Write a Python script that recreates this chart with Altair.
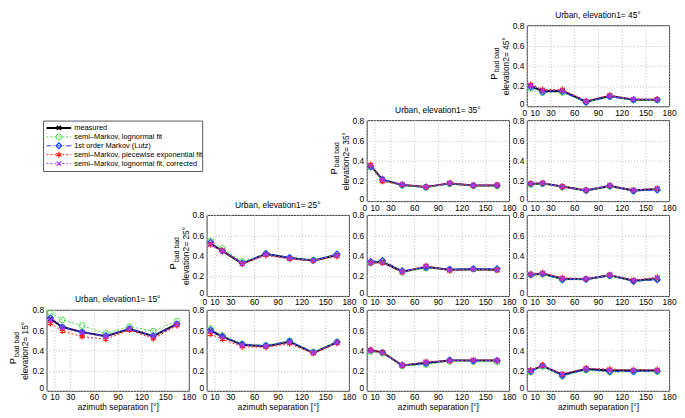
import altair as alt
import pandas as pd

FONT = "Liberation Sans"

AZIMUTH = [5, 20, 45, 75, 105, 135, 165]
SERIES = [
    "measured",
    "semi–Markov, lognormal fit",
    "1st order Markov (Lutz)",
    "semi–Markov, piecewise exponential fit",
    "semi–Markov, lognormal fit, corrected",
]
X_TICKS = [0, 10, 30, 60, 90, 120, 150, 180]
Y_TICKS = [0, 0.2, 0.4, 0.6, 0.8]

# values per panel: (elevation1, elevation2)
MEAS_15_15 = [0.71, 0.63, 0.58, 0.54, 0.61, 0.54, 0.66]
LOGN_15_15 = [0.77, 0.70, 0.645, 0.565, 0.635, 0.59, 0.69]
LUTZ_15_15 = [0.72, 0.63, 0.58, 0.545, 0.615, 0.545, 0.66]
PEXP_15_15 = [0.665, 0.59, 0.535, 0.51, 0.60, 0.515, 0.645]
CORR_15_15 = [0.70, 0.625, 0.575, 0.535, 0.61, 0.535, 0.655]

MEAS_25_25 = [0.515, 0.445, 0.32, 0.415, 0.375, 0.35, 0.405]
LOGN_25_25 = [0.545, 0.47, 0.34, 0.415, 0.375, 0.355, 0.405]
LUTZ_25_25 = [0.53, 0.445, 0.325, 0.42, 0.38, 0.35, 0.415]
PEXP_25_25 = [0.505, 0.45, 0.315, 0.40, 0.365, 0.345, 0.39]
CORR_25_25 = [0.51, 0.445, 0.32, 0.41, 0.37, 0.35, 0.40]

MEAS_25_15 = [0.595, 0.535, 0.455, 0.44, 0.485, 0.375, 0.48]
LOGN_25_15 = [0.615, 0.545, 0.465, 0.45, 0.495, 0.385, 0.485]
LUTZ_25_15 = [0.60, 0.54, 0.46, 0.445, 0.49, 0.38, 0.48]
PEXP_25_15 = [0.56, 0.51, 0.435, 0.43, 0.465, 0.37, 0.47]
CORR_25_15 = [0.585, 0.53, 0.45, 0.44, 0.48, 0.375, 0.475]

MEAS_35_35 = [0.35, 0.21, 0.16, 0.14, 0.175, 0.155, 0.155]
LOGN_35_35 = [0.335, 0.20, 0.155, 0.135, 0.17, 0.15, 0.15]
LUTZ_35_35 = [0.34, 0.215, 0.16, 0.14, 0.175, 0.155, 0.155]
PEXP_35_35 = [0.36, 0.195, 0.165, 0.14, 0.18, 0.155, 0.16]
CORR_35_35 = [0.355, 0.205, 0.165, 0.14, 0.18, 0.155, 0.16]

MEAS_35_25 = [0.33, 0.335, 0.24, 0.285, 0.26, 0.265, 0.26]
LOGN_35_25 = [0.325, 0.335, 0.235, 0.275, 0.26, 0.265, 0.26]
LUTZ_35_25 = [0.34, 0.35, 0.25, 0.28, 0.265, 0.27, 0.27]
PEXP_35_25 = [0.325, 0.325, 0.235, 0.30, 0.25, 0.265, 0.255]
CORR_35_25 = [0.325, 0.33, 0.235, 0.295, 0.255, 0.265, 0.255]

MEAS_35_15 = [0.40, 0.38, 0.25, 0.275, 0.30, 0.30, 0.30]
LOGN_35_15 = [0.385, 0.37, 0.245, 0.26, 0.29, 0.29, 0.285]
LUTZ_35_15 = [0.40, 0.38, 0.255, 0.27, 0.305, 0.295, 0.30]
PEXP_35_15 = [0.40, 0.38, 0.25, 0.29, 0.295, 0.305, 0.30]
CORR_35_15 = [0.395, 0.375, 0.25, 0.285, 0.295, 0.305, 0.30]

MEAS_45_45 = [0.20, 0.15, 0.15, 0.045, 0.10, 0.065, 0.065]
LOGN_45_45 = [0.175, 0.135, 0.135, 0.04, 0.095, 0.06, 0.06]
LUTZ_45_45 = [0.19, 0.14, 0.145, 0.04, 0.095, 0.065, 0.065]
PEXP_45_45 = [0.215, 0.165, 0.165, 0.055, 0.11, 0.07, 0.07]
CORR_45_45 = [0.205, 0.155, 0.155, 0.05, 0.105, 0.07, 0.065]

MEAS_45_35 = [0.17, 0.175, 0.145, 0.105, 0.15, 0.105, 0.12]
LOGN_45_35 = [0.165, 0.17, 0.14, 0.105, 0.145, 0.10, 0.115]
LUTZ_45_35 = [0.17, 0.175, 0.14, 0.105, 0.15, 0.10, 0.11]
PEXP_45_35 = [0.175, 0.18, 0.145, 0.11, 0.155, 0.11, 0.125]
CORR_45_35 = [0.175, 0.18, 0.145, 0.11, 0.155, 0.11, 0.125]

MEAS_45_25 = [0.21, 0.22, 0.17, 0.165, 0.205, 0.15, 0.17]
LOGN_45_25 = [0.21, 0.215, 0.16, 0.165, 0.20, 0.145, 0.165]
LUTZ_45_25 = [0.21, 0.22, 0.16, 0.165, 0.20, 0.145, 0.16]
PEXP_45_25 = [0.22, 0.23, 0.18, 0.17, 0.21, 0.155, 0.185]
CORR_45_25 = [0.215, 0.225, 0.175, 0.17, 0.21, 0.155, 0.18]

MEAS_45_15 = [0.20, 0.245, 0.16, 0.215, 0.20, 0.20, 0.20]
LOGN_45_15 = [0.185, 0.24, 0.145, 0.205, 0.185, 0.19, 0.19]
LUTZ_45_15 = [0.19, 0.25, 0.15, 0.21, 0.19, 0.19, 0.195]
PEXP_45_15 = [0.205, 0.255, 0.165, 0.225, 0.215, 0.205, 0.21]
CORR_45_15 = [0.20, 0.25, 0.165, 0.22, 0.205, 0.205, 0.205]

PANELS = {
    (15, 15): [MEAS_15_15, LOGN_15_15, LUTZ_15_15, PEXP_15_15, CORR_15_15],
    (25, 25): [MEAS_25_25, LOGN_25_25, LUTZ_25_25, PEXP_25_25, CORR_25_25],
    (25, 15): [MEAS_25_15, LOGN_25_15, LUTZ_25_15, PEXP_25_15, CORR_25_15],
    (35, 35): [MEAS_35_35, LOGN_35_35, LUTZ_35_35, PEXP_35_35, CORR_35_35],
    (35, 25): [MEAS_35_25, LOGN_35_25, LUTZ_35_25, PEXP_35_25, CORR_35_25],
    (35, 15): [MEAS_35_15, LOGN_35_15, LUTZ_35_15, PEXP_35_15, CORR_35_15],
    (45, 45): [MEAS_45_45, LOGN_45_45, LUTZ_45_45, PEXP_45_45, CORR_45_45],
    (45, 35): [MEAS_45_35, LOGN_45_35, LUTZ_45_35, PEXP_45_35, CORR_45_35],
    (45, 25): [MEAS_45_25, LOGN_45_25, LUTZ_45_25, PEXP_45_25, CORR_45_25],
    (45, 15): [MEAS_45_15, LOGN_45_15, LUTZ_45_15, PEXP_45_15, CORR_45_15],
}

# styling
COLORS = ["#000000", "#4cdc4c", "#1d3cff", "#ff1a1a", "#a53cff"]
X_PATH = "M-1,-1L1,1M-1,1L1,-1"
STAR_PATH = "M0,-1L0,1M-0.87,-0.5L0.87,0.5M-0.87,0.5L0.87,-0.5"
STYLES = [
    dict(dash=None, width=2, shape=X_PATH, size=18, pw=1.5),
    dict(dash=[2, 2], width=1, shape="circle", size=34, pw=1),
    dict(dash=[5, 2, 1, 2], width=1, shape="diamond", size=34, pw=1.2),
    dict(dash=[2, 2], width=1, shape=STAR_PATH, size=36, pw=1.3),
    dict(dash=[2, 2], width=1, shape=X_PATH, size=20, pw=1.3),
]

W, H = 144, 82


def styles_for(i):
    st = STYLES[i]
    lk = dict(color=COLORS[i], strokeWidth=st["width"])
    if st["dash"]:
        lk["strokeDash"] = st["dash"]
    pk = dict(shape=st["shape"], filled=False, color=COLORS[i], size=st["size"],
              strokeWidth=st["pw"], opacity=1)
    return lk, pk


def panel(el1, el2, show_title, show_ytitle, show_xtitle):
    rows = []
    for name, vals in zip(SERIES, PANELS[(el1, el2)]):
        for a, v in zip(AZIMUTH, vals):
            rows.append({"series": name, "az": a, "p": v})
    df = pd.DataFrame(rows)
    xaxis = alt.Axis(
        values=X_TICKS, labelOverlap=False,
        labelAlign={"condition": {"test": "datum.value == 0", "value": "right"}, "value": "center"},
        title="azimuth separation [°]" if show_xtitle else None,
    )
    yaxis = alt.Axis(
        values=Y_TICKS, format="~g", labelOverlap=False,
        labelBaseline={"condition": {"test": "datum.value == 0", "value": "alphabetic"}, "value": "middle"},
        title=f"elevation2= {el2}°" if show_ytitle else None,
    )
    x = alt.X("az:Q", scale=alt.Scale(domain=[0, 180], nice=False, zero=False), axis=xaxis)
    y = alt.Y("p:Q", scale=alt.Scale(domain=[0, 0.8], nice=False), axis=yaxis)
    layers = []
    for i, name in enumerate(SERIES):
        base = alt.Chart(df).transform_filter(alt.datum.series == name).encode(x=x, y=y)
        lk, pk = styles_for(i)
        layers.append(base.mark_line(**lk))
        layers.append(base.mark_point(**pk))
    if show_ytitle:
        layers.append(
            alt.Chart(pd.DataFrame({"t": ["P"]})).mark_text(
                angle=270, fontSize=9.5, font=FONT, baseline="alphabetic", align="center", color="#000"
            ).encode(text="t:N", x=alt.value(-30.5), y=alt.value(52))
        )
        layers.append(
            alt.Chart(pd.DataFrame({"t": ["bad bad"]})).mark_text(
                angle=270, fontSize=7, font=FONT, baseline="alphabetic", align="center", color="#000"
            ).encode(text="t:N", x=alt.value(-28), y=alt.value(35))
        )
    ch = alt.layer(*layers).properties(width=W, height=H)
    if show_title:
        ch = ch.properties(title=f"Urban, elevation1= {el1}°")
    return ch


def empty():
    return alt.Chart(pd.DataFrame({"v": [0]})).mark_point(opacity=0).encode(
        x=alt.value(0), y=alt.value(0)
    ).properties(width=W, height=H, view=alt.ViewBackground(stroke="transparent"))


def legend_cell():
    leg = pd.DataFrame({"idx": list(range(len(SERIES))), "label": SERIES})
    ly = alt.Y("idx:Q", scale=alt.Scale(domain=[0, 4], range=[8, 44]), axis=None)
    layers = [
        alt.Chart(pd.DataFrame({"v": [0]})).mark_rect(
            fill="white", stroke="#555555", strokeWidth=1
        ).encode(x=alt.value(-3), x2=alt.value(158), y=alt.value(1), y2=alt.value(52))
    ]
    for i, name in enumerate(SERIES):
        base = alt.Chart(leg).transform_filter(alt.datum.label == name)
        lk, pk = styles_for(i)
        layers.append(base.mark_rule(**lk).encode(x=alt.value(0), x2=alt.value(25), y=ly))
        layers.append(base.mark_point(**pk).encode(x=alt.value(12.5), y=ly))
    layers.append(
        alt.Chart(leg).mark_text(align="left", baseline="middle", fontSize=7.5, font=FONT, color="#000")
        .encode(x=alt.value(28), y=ly, text="label:N")
    )
    return alt.layer(*layers).properties(width=W, height=H, view=alt.ViewBackground(stroke="transparent"))


cells = [
    empty(), empty(), empty(), panel(45, 45, True, True, False),
    legend_cell(), empty(), panel(35, 35, True, True, False), panel(45, 35, False, False, False),
    empty(), panel(25, 25, True, True, False), panel(35, 25, False, False, False), panel(45, 25, False, False, False),
    panel(15, 15, True, True, True), panel(25, 15, False, False, True), panel(35, 15, False, False, True), panel(45, 15, False, False, True),
]

chart = alt.concat(
    *cells, columns=4, spacing={"row": 14, "column": 18}, bounds="flush"
).properties(
    padding={"left": 0, "top": 0, "right": 0, "bottom": 0}
).configure_view(
    stroke="#333333", strokeWidth=1
).configure_axis(
    labelFont=FONT, labelFontSize=8.5, labelColor="#000000",
    titleFont=FONT, titleFontSize=8.5, titleFontWeight="normal", titleColor="#000000",
    grid=True, gridColor="#bdbdbd", gridDash=[1, 2], gridWidth=1,
    domain=False, ticks=False, labelPadding=2,
).configure_axisY(
    titlePadding=2, labelPadding=3
).configure_axisX(
    titlePadding=1
).configure_title(
    font=FONT, fontSize=8.5, fontWeight="normal", color="#000000", offset=2, anchor="middle"
)

chart.save("out.html", embed_options={"renderer": "svg", "actions": False})
